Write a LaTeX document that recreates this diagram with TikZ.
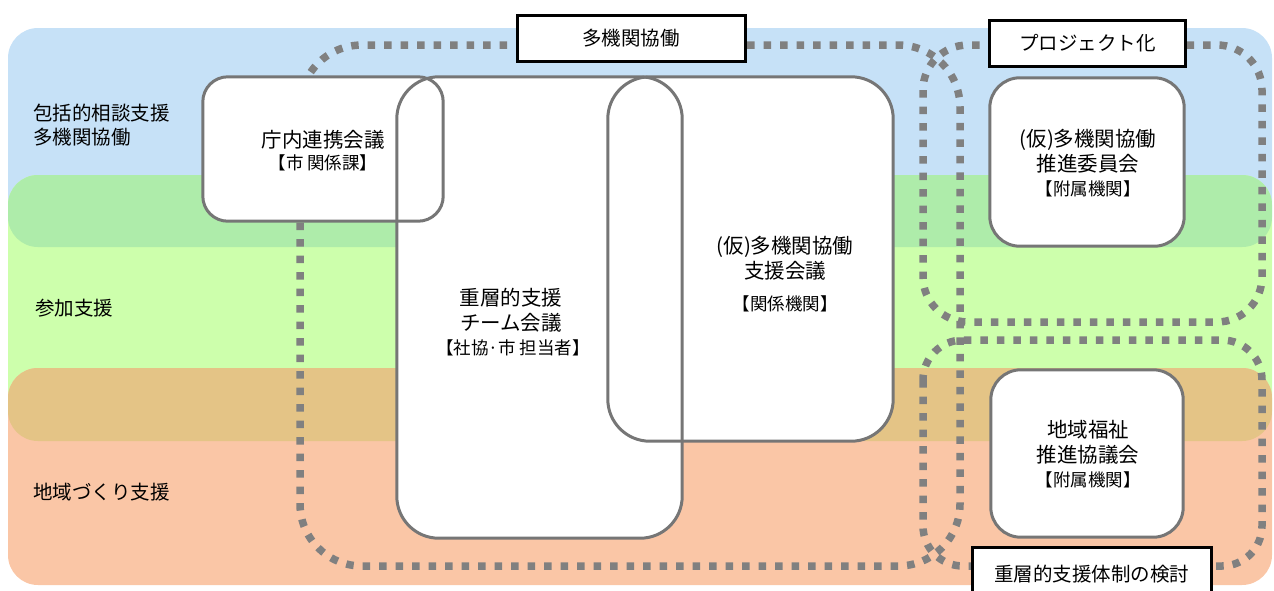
\documentclass[tikz,border=0pt]{standalone}
\usepackage{fontspec}
\setmainfont{Noto Sans CJK JP}
\definecolor{bandblue}{RGB}{198,225,247}
\definecolor{bandgreen}{RGB}{205,255,172}
\definecolor{banddkgreen}{RGB}{174,236,170}
\definecolor{bandorange}{RGB}{250,198,166}
\definecolor{bandtan}{RGB}{228,196,134}
\definecolor{dotgrey}{RGB}{128,128,128}
\definecolor{boxgrey}{RGB}{118,118,118}
\tikzset{
  band/.style={rounded corners=30pt},
  dot-line/.style={
    draw=dotgrey,
    line width=7.5pt,
    dash pattern=on 7.5pt off 9pt
  },
  box-fill/.style={fill=white, inner sep=0pt},
  box-line/.style={draw=boxgrey, line width=3pt},
  title-box/.style={draw=black, line width=3pt, fill=white, inner sep=0pt,
    font=\fontsize{19.5}{23}\selectfont},
  lbl/.style={font=\fontsize{20.5}{25}\selectfont, align=center, inner sep=0pt},
  lbl-small/.style={font=\fontsize{17.5}{20}\selectfont, inner sep=0pt},
  side-lbl/.style={font=\fontsize{19.5}{24}\selectfont, align=left, anchor=west, inner sep=0pt}
}

\begin{document}
\begin{tikzpicture}[x=1pt,y=-1pt]
  \useasboundingbox (0,0) rectangle (1274,590);

  % Bands
  \fill[bandblue, band] (8,28) rectangle (1272,247);
  \fill[bandgreen, band] (8,175) rectangle (1272,441);
  \begin{scope}
    \clip[band] (8,28) rectangle (1272,247);
    \fill[banddkgreen, band] (8,175) rectangle (1272,441);
  \end{scope}
  \fill[bandorange, band] (8,368) rectangle (1272,585);
  \begin{scope}
    \clip[band] (8,175) rectangle (1272,441);
    \fill[bandtan, band] (8,368) rectangle (1272,585);
  \end{scope}

  % Band labels
  \node[side-lbl] (lbl-soudan) at (33,125) {包括的相談支援\\多機関協働};
  \node[side-lbl] (lbl-sanka) at (35,308) {参加支援};
  \node[side-lbl] (lbl-chiiki) at (33,492) {地域づくり支援};

  % Dotted groups
  \draw[dot-line, rounded corners=62pt] (300,45) rectangle (960,566);
  \draw[dot-line, rounded corners=45pt] (923,45) rectangle (1262,322);
  \draw[dot-line, rounded corners=40pt] (923,340) rectangle (1262,566);

  % Boxes
  \node[box-fill, minimum width=240pt, minimum height=144pt, rounded corners=25pt] (chonai) at (323,149) {};
  \node[box-fill, minimum width=285pt, minimum height=461pt, rounded corners=42pt] (jusou) at (539.5,307.5) {};
  \node[box-fill, minimum width=285pt, minimum height=364pt, rounded corners=42pt] (shien) at (750.5,259) {};
  \node[box-fill, minimum width=194pt, minimum height=168pt, rounded corners=30pt] (suishin) at (1087,162) {};
  \node[box-fill, minimum width=192pt, minimum height=167pt, rounded corners=30pt] (chiiki) at (1087,453.5) {};
  \foreach \b/\r in {chonai/25, jusou/42, shien/42, suishin/30, chiiki/30} {
    \draw[box-line, rounded corners=\r pt] (\b.north west) rectangle (\b.south east);
  }

  % Box texts
  \node[lbl] (chonai-txt) at (323,140) {庁内連携会議};
  \node[lbl-small] (chonai-sub) at (323,163) {【市 関係課】};
  \node[lbl] (jusou-txt) at (511,310) {重層的支援\\チーム会議};
  \node[lbl-small] (jusou-sub) at (513,348) {【社協·市 担当者】};
  \node[lbl] (shien-txt) at (785,258) {(仮)多機関協働\\支援会議};
  \node[lbl-small] (shien-sub) at (785,304) {【関係機関】};
  \node[lbl] (suishin-txt) at (1088,151.5) {(仮)多機関協働\\推進委員会};
  \node[lbl-small] (suishin-sub) at (1088,189) {【附属機関】};
  \node[lbl] (chiiki-txt) at (1088,442.5) {地域福祉\\推進協議会};
  \node[lbl-small] (chiiki-sub) at (1088,480) {【附属機関】};

  % Group titles
  \node[title-box, minimum width=228pt, minimum height=46pt] (ttl-takikan) at (631,38) {多機関協働};
  \node[title-box, minimum width=196pt, minimum height=46pt] (ttl-project) at (1087.5,43.5) {プロジェクト化};
  \node[title-box, minimum width=239pt, minimum height=54pt] (ttl-kentou) at (1091.5,574) {重層的支援体制の検討};
\end{tikzpicture}
\end{document}
